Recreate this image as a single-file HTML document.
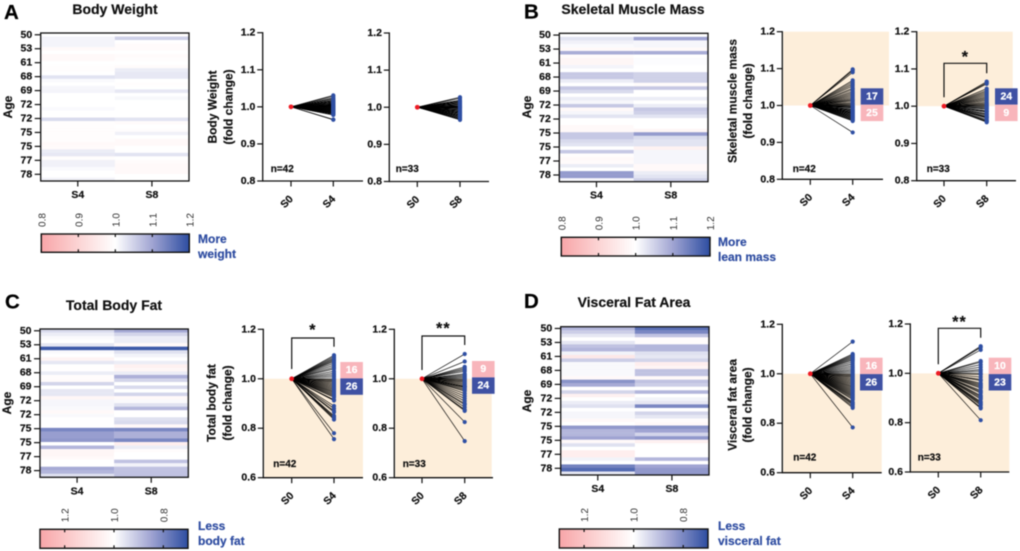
<!DOCTYPE html>
<html lang="en">
<head>
<meta charset="utf-8">
<title>Body composition fold change panels</title>
<style>
html,body{margin:0;padding:0;background:#fff;width:1020px;height:551px;overflow:hidden}
svg{display:block;font-family:"Liberation Sans",Arial,sans-serif;filter:blur(.4px)}
</style>
</head>
<body>
<svg id="figure" xmlns="http://www.w3.org/2000/svg" width="1020" height="551" viewBox="0 0 1020 551"></svg>
<script>
// ---- Heatmap row labels and categories ----
const ageLabels = [50,53,61,68,69,72,72,75,75,77,78];
const heatColumns = ['S4','S8'];

// ---- Heatmap values (fold change per participant row) ----
const heatAS4 = [1.0,1.012,1.012,1.012,.985,1.0,.985,.985,1.0,.995,.995,1.0,1.03,1.005,1.0,1.01,1.012,1.0,1.0,1.0,1.0,1.005,1.0,1.0,1.04,.995,.995,.995,.995,.995,.995,.985,.99,1.02,1.025,.995,1.015,1.015,1.005,1.0,1.0,1.012];
const heatAS8 = [.995,1.05,1.0,.99,.99,1.0,.99,.995,1.0,.99,1.02,1.025,1.025,1.0,.995,1.0,1.025,1.0,1.008,1.0,1.0,1.0,1.0,1.0,1.03,.99,1.0,.995,1.015,1.0,.985,.985,1.0,1.0,1.03,1.0,.99,.985,.985,.985,1.0,1.0];
const heatBS4 = [1.0,1.03,1.015,1.005,.985,1.09,.99,.98,.98,1.012,1.0,1.06,1.06,1.02,1.0,1.06,1.04,1.0,1.02,1.01,1.06,.985,1.01,1.03,1.0,1.0,.985,.985,1.06,1.06,1.04,1.03,1.0,1.06,.995,.985,.99,1.02,1.0,1.11,1.11,1.01];
const heatBS8 = [1.0,1.1,1.01,1.01,.985,1.09,1.0,1.003,1.003,1.0,1.0,1.05,1.05,1.05,.99,1.06,1.0,1.0,1.02,1.0,1.02,1.06,1.05,1.03,1.0,1.0,1.0,.98,1.11,1.04,1.03,1.03,.97,1.01,1.01,1.01,1.01,.985,.985,1.02,1.03,1.05];
const heatCS4 = [.94,.97,.99,1.0,.96,.72,.99,1.0,1.04,.96,1.005,1.005,.97,1.01,1.015,.93,1.0,.96,.96,1.03,.985,.985,.99,1.02,.99,1.0,1.0,1.0,.8,.84,.84,.83,1.0,.88,1.03,1.03,1.02,1.0,1.0,.86,.88,.95];
const heatCS8 = [.86,.93,.97,.97,1.02,.72,.95,.98,1.0,.97,1.05,1.03,.97,.87,.93,1.0,.94,1.0,.93,1.02,.99,.95,.88,1.0,1.0,.95,.94,1.02,.8,.87,.87,.8,1.06,.97,1.01,1.0,1.0,.9,.98,.9,.9,.9];
const heatDS4 = [.88,.92,.96,1.0,.96,.9,.88,.98,1.08,.92,.99,.99,.99,.99,1.02,.82,.86,1.0,.93,1.05,1.0,.97,.95,1.0,.985,.985,1.02,1.0,.83,.88,.88,.85,1.02,.95,1.0,1.06,1.06,.98,1.0,.79,.75,.96];
const heatDS8 = [.76,.8,.9,1.01,1.01,.88,.88,.95,.96,.93,1.06,1.04,.9,.9,1.02,.9,.92,1.0,.88,1.0,.98,.96,.8,1.0,.93,.96,1.01,1.02,.82,.85,.93,.83,1.05,1.0,1.0,1.0,1.0,.88,1.0,.85,.83,.83];

// ---- Paired endpoint values (S0 is always 1.0) ----
const baselineValue = 1.0;
const pairAS4 = [1.031,1.028,1.024,1.022,1.019,1.017,1.015,1.014,1.012,1.011,1.009,1.008,1.006,1.005,1.004,1.003,1.002,1.001,1.0,.999,.998,.997,.996,.995,.994,.993,.992,.991,.99,.989,.988,.987,.986,.985,.984,.983,.982,.981,.979,.978,.966,.965];
const pairAS8 = [1.027,1.024,1.019,1.017,1.015,1.013,1.011,1.009,1.007,1.005,1.003,1.002,1.0,.999,.998,.996,.994,.992,.99,.989,.987,.985,.984,.982,.98,.978,.977,.975,.973,.971,.969,.967,.966];
const pairBS4 = [1.098,1.095,1.09,1.068,1.063,1.058,1.053,1.047,1.043,1.038,1.034,1.03,1.026,1.022,1.018,1.015,1.012,1.008,1.005,1.002,.999,.997,.995,.993,.99,.988,.986,.984,.982,.98,.978,.976,.974,.972,.97,.968,.966,.964,.962,.96,.958,.927];
const pairBS8 = [1.066,1.063,1.06,1.047,1.042,1.038,1.034,1.03,1.026,1.022,1.018,1.014,1.01,1.007,1.004,1.002,.999,.997,.994,.992,.988,.986,.984,.98,.978,.975,.972,.97,.968,.964,.961,.959,.957];
const pairCS4 = [1.095,1.09,1.085,1.08,1.075,1.07,1.063,1.055,1.047,1.04,1.03,1.022,1.015,1.008,1.0,.995,.99,.985,.98,.975,.97,.965,.96,.955,.95,.945,.94,.935,.93,.925,.915,.912,.89,.88,.87,.865,.85,.845,.84,.835,.78,.756];
const pairCS8 = [1.1,1.07,1.048,1.042,1.036,1.03,1.02,1.015,1.01,1.005,1.0,.995,.99,.985,.98,.975,.97,.968,.965,.96,.955,.95,.94,.93,.92,.91,.9,.895,.885,.875,.87,.825,.748];
const pairDS4 = [1.13,1.08,1.075,1.07,1.065,1.06,1.055,1.048,1.04,1.032,1.025,1.018,1.012,1.006,1.0,.995,.99,.985,.98,.975,.97,.965,.96,.955,.95,.945,.94,.935,.93,.925,.92,.915,.91,.905,.9,.895,.885,.88,.875,.868,.862,.783];
const pairDS8 = [1.11,1.105,1.095,1.05,1.045,1.035,1.025,1.015,1.008,1.0,.995,.985,.975,.97,.96,.955,.95,.945,.94,.93,.925,.92,.91,.905,.9,.895,.885,.88,.875,.87,.862,.858,.81];

// ---- Axis tick labels ----
const ticksWide = [0.8,0.9,1.0,1.1,1.2];
const ticksTall = [0.6,0.8,1.0,1.2];
const colorTicksGain = [0.8,0.9,1.0,1.1,1.2];
const colorTicksLoss = [1.2,1.0,0.8];

// ---- Panel layout ----
const panels = [
 {key:'a',letter:'A',lx:4,ly:19,title:'Body Weight',tx:115,ty:9,age:[8,107],
  heat:{x0:40.7,x1:189,y0:33,y1:181,labelY:195,s4:heatAS4,s8:heatAS8},
  bar:{x0:41.3,x1:189.3,y0:234,y1:252.3,lo:.8,hi:1.2,ticks:colorTicksGain,note:['More','weight'],nx:198,ny:[239,254]},
  ytitle:'Body Weight',charts:[
   {ax:262.7,top:32.7,bot:181,s0:291,s1:333.3,end:363,lab:'S4',vals:pairAS4,dom:[.8,1.2],ticks:ticksWide,n:'n=42',nx:270.7,ny:169.3,shade:null},
   {ax:389.3,top:33,bot:181.5,s0:417.3,s1:460,end:489,lab:'S8',vals:pairAS8,dom:[.8,1.2],ticks:ticksWide,n:'n=33',nx:395.7,ny:169.3,shade:null}],
  tl:[212.7,228.3],tc:107},
 {key:'b',letter:'B',lx:524,ly:18.5,title:'Skeletal Muscle Mass',tx:633,ty:9,age:[527,107],
  heat:{x0:559.3,x1:708,y0:33.3,y1:181.7,labelY:195.5,s4:heatBS4,s8:heatBS8},
  bar:{x0:561.3,x1:710,y0:237.3,y1:256,lo:.8,hi:1.2,ticks:colorTicksGain,note:['More','lean mass'],nx:718,ny:[242,257]},
  ytitle:'Skeletal muscle mass',charts:[
   {ax:782.3,top:31.7,bot:179.3,s0:810.3,s1:852.7,end:883,lab:'S4',vals:pairBS4,dom:[.8,1.2],ticks:ticksWide,n:'n=42',nx:792.7,ny:169.3,shade:{from:1.0,to:1.2,x1:889},
    badge:{x:860.7,y0:88.3,top:['17','blue'],bot:['25','pink']}},
   {ax:916.7,top:31.7,bot:180.7,s0:944,s1:986.7,end:1016,lab:'S8',vals:pairBS8,dom:[.8,1.2],ticks:ticksWide,n:'n=33',nx:926.7,ny:169.3,shade:{from:1.0,to:1.2,x1:1012.7},
    badge:{x:995,y0:88.3,top:['24','blue'],bot:['9','pink']},
    sig:{stars:'*',barY:63.3,left:97.3,right:73.3,sy:55}}],
  tl:[732.3,748],tc:101},
 {key:'c',letter:'C',lx:5,ly:308.5,title:'Total Body Fat',tx:114,ty:305,age:[7,403],
  heat:{x0:40,x1:188.3,y0:329,y1:477.3,labelY:491.7,s4:heatCS4,s8:heatCS8},
  bar:{x0:40,x1:188,y0:529.3,y1:548.3,lo:1.3,hi:.7,ticks:colorTicksLoss,note:['Less','body fat'],nx:198,ny:[526,541]},
  ytitle:'Total body fat',charts:[
   {ax:263.3,top:329.3,bot:477.7,s0:291.7,s1:334,end:363,lab:'S4',vals:pairCS4,dom:[.6,1.2],ticks:ticksTall,n:'n=42',nx:273.3,ny:464.3,shade:{from:.6,to:1.0,x1:363},
    badge:{x:340.3,y0:362,top:['16','pink'],bot:['26','blue']},
    sig:{stars:'*',barY:338,left:369,right:346.7,sy:328}},
   {ax:394.3,top:329.3,bot:477.7,s0:422,s1:464.7,end:493,lab:'S8',vals:pairCS8,dom:[.6,1.2],ticks:ticksTall,n:'n=33',nx:402.7,ny:464.3,shade:{from:.6,to:1.0,x1:491.7},
    badge:{x:472,y0:361,top:['9','pink'],bot:['24','blue']},
    sig:{stars:'**',barY:336,left:370,right:345,sy:326.7}}],
  tl:[211.7,227.3],tc:403},
 {key:'d',letter:'D',lx:524,ly:308,title:'Visceral Fat Area',tx:634,ty:302,age:[527,401],
  heat:{x0:560.7,x1:709,y0:326.7,y1:475,labelY:489,s4:heatDS4,s8:heatDS8},
  bar:{x0:559.3,x1:708,y0:529,y1:548,lo:1.3,hi:.7,ticks:colorTicksLoss,note:['Less','visceral fat'],nx:718,ny:[526,541]},
  ytitle:'Visceral fat area',charts:[
   {ax:782.3,top:324.3,bot:472.7,s0:810.3,s1:852.7,end:881.7,lab:'S4',vals:pairDS4,dom:[.6,1.2],ticks:ticksTall,n:'n=42',nx:793.3,ny:458,shade:{from:.6,to:1.0,x1:881.7},
    badge:{x:860,y0:357.7,top:['16','pink'],bot:['26','blue']}},
   {ax:910.3,top:324,bot:472,s0:938.3,s1:980.7,end:1009.3,lab:'S8',vals:pairDS8,dom:[.6,1.2],ticks:ticksTall,n:'n=33',nx:917.7,ny:458,shade:{from:.6,to:1.0,x1:1009.3},
    badge:{x:988.7,y0:357.7,top:['10','pink'],bot:['23','blue']},
    sig:{stars:'**',barY:328.3,left:364.3,right:337.7,sy:320}}],
  tl:[732.7,747.3],tc:405}
];

// ---- Drawing helpers ----
const NS = 'http://www.w3.org/2000/svg';
const root = document.getElementById('figure');
function mk(parent, tag, attrs){
  const el = document.createElementNS(NS, tag);
  for (const k in attrs) el.setAttribute(k, attrs[k]);
  parent.appendChild(el);
  return el;
}
function label(parent, str, x, y, size, opts){
  const o = opts || {};
  const fill = o.fill || '#111';
  const a = {x:x, y:y, 'font-size':size, 'font-weight':o.weight || 'bold', fill:fill,
             'text-anchor':o.anchor || 'middle', 'dominant-baseline':o.base || 'central'};
  if (!o.weight) { a.stroke = fill; a['stroke-width'] = .2; }
  if (o.rot !== undefined) a.transform = 'rotate(' + o.rot + ' ' + x + ' ' + y + ')';
  const el = mk(parent, 'text', a);
  el.textContent = str;
  return el;
}
const colorStops = [[248,165,168],[252,212,212],[255,255,255],[160,164,210],[45,77,161]];
function heatColor(v, lo, hi){
  const t = Math.max(0, Math.min(1, (v - lo) / (hi - lo))) * 4;
  const i = Math.min(3, Math.floor(t));
  const f = t - i;
  const c = colorStops[i].map((s, k) => Math.round(s + (colorStops[i + 1][k] - s) * f));
  return 'rgb(' + c.join(',') + ')';
}
function yScaleFor(c){
  return v => c.bot - (v - c.dom[0]) / (c.dom[1] - c.dom[0]) * (c.bot - c.top);
}
const STROKE = '#111';

function drawHeatmap(g, p){
  const h = p.heat;
  const columns = [h.s4, h.s8];
  const rowCount = h.s4.length;
  const rowH = (h.y1 - h.y0) / rowCount;
  const colW = (h.x1 - h.x0) / columns.length;
  const yRow = i => h.y0 + i * rowH;
  const xCol = j => h.x0 + j * colW;
  columns.forEach((vals, j) => {
    vals.forEach((v, i) => {
      const cell = mk(g, 'rect', {x:xCol(j), y:yRow(i), width:colW + .2, height:rowH + .2, fill:heatColor(v, p.bar.lo, p.bar.hi)});
      
      
    });
  });
  const frame = mk(g, 'rect', {x:h.x0, y:h.y0, width:h.x1 - h.x0, height:h.y1 - h.y0, fill:'none', stroke:STROKE, 'stroke-width':1.3});
  
  
  ageLabels.forEach((a, i) => {
    const y = yRow(i * 4 + .5) - i * .14;
    const t = mk(g, 'line', {x1:h.x0 - 6, x2:h.x0, y1:y, y2:y, stroke:STROKE, 'stroke-width':1.2});
    
    
    const l = label(g, a, h.x0 - 8.5, y, 10.5, {anchor:'end'});
    
    
  });
  heatColumns.forEach((name, j) => {
    const x = xCol(j) + colW / 2;
    const t = mk(g, 'line', {x1:x, x2:x, y1:h.y1, y2:h.y1 + 5.5, stroke:STROKE, 'stroke-width':1.2});
    
    
    const l = label(g, name, x, h.labelY, 10.5);
    
    
  });
  const ageT = label(g, 'Age', p.age[0], p.age[1], 12, {rot:-90});
  
  
}

function drawColorBar(g, defs, p){
  const b = p.bar;
  const grad = mk(defs, 'linearGradient', {id:'grad-' + p.key, x1:0, x2:1, y1:0, y2:0});
  colorStops.forEach((c, i) => {
    mk(grad, 'stop', {offset:(i * 25) + '%', 'stop-color':'rgb(' + c.join(',') + ')'});
  });
  const r = mk(g, 'rect', {x:b.x0, y:b.y0, width:b.x1 - b.x0, height:b.y1 - b.y0, fill:'url(#grad-' + p.key + ')', stroke:STROKE, 'stroke-width':1.4});
  
  
  const xv = v => b.x0 + (v - b.lo) / (b.hi - b.lo) * (b.x1 - b.x0);
  b.ticks.forEach(v => {
    const x = xv(v);
    const t1 = mk(g, 'line', {x1:x, x2:x, y1:b.y0, y2:b.y0 + 3, stroke:STROKE, 'stroke-width':1.2});
    
    
    const t2 = mk(g, 'line', {x1:x, x2:x, y1:b.y1 - 3, y2:b.y1, stroke:STROKE, 'stroke-width':1.2});
    
    
    const l = label(g, v.toFixed(1), x + 1.5, b.y0 - 14, 10, {rot:-90, weight:'normal', fill:'#333'});
    
    
  });
  b.note.forEach((s, i) => {
    const n = label(g, s, b.nx, b.ny[i], 12, {anchor:'start', fill:'#2f4da1'});
    
    
  });
}

function drawPairChart(g, c){
  const y = yScaleFor(c);
  if (c.shade){
    const s = mk(g, 'rect', {x:c.ax + 1, y:y(c.shade.to), width:c.shade.x1 - c.ax - 1, height:y(c.shade.from) - y(c.shade.to), fill:'#fdeeda'});
    
    
  }
  c.vals.forEach(v => {
    const ln = mk(g, 'line', {x1:c.s0, y1:y(baselineValue), x2:c.s1, y2:y(v), stroke:'#000', 'stroke-width':.65});
    
    
  });
  c.vals.forEach(v => {
    const d = mk(g, 'circle', {cx:c.s1, cy:y(v), r:2.1, fill:'#2f4fa3'});
    
    
  });
  const base = mk(g, 'circle', {cx:c.s0, cy:y(baselineValue), r:2.4, fill:'#ee1c25'});
  
  

  const yAxis = mk(g, 'line', {x1:c.ax, x2:c.ax, y1:c.top - .6, y2:c.bot + .6, stroke:STROKE, 'stroke-width':1.3});
  
  
  const xAxis = mk(g, 'line', {x1:c.ax, x2:c.end, y1:c.bot, y2:c.bot, stroke:STROKE, 'stroke-width':1.3});
  
  
  c.ticks.forEach(v => {
    const t = mk(g, 'line', {x1:c.ax - 5.5, x2:c.ax, y1:y(v), y2:y(v), stroke:STROKE, 'stroke-width':1.2});
    
    
    const l = label(g, v.toFixed(1), c.ax - 7.3, y(v), 10.5, {anchor:'end'});
    
    
  });
  [['S0', c.s0], [c.lab, c.s1]].forEach(pair => {
    const t = mk(g, 'line', {x1:pair[1], x2:pair[1], y1:c.bot, y2:c.bot + 5.5, stroke:STROKE, 'stroke-width':1.2});
    
    
    const l = label(g, pair[0], pair[1] - 4, c.bot + 21, 10.5, {rot:-45});
    
    
  });
  const nt = label(g, c.n, c.nx, c.ny, 10, {anchor:'start'});
  
  

  if (c.badge){
    const bw = 22.6, bh = 16.4;
    const cols = {blue:'#3f51a3', pink:'#f8b5bb'};
    [c.badge.top, c.badge.bot].forEach((b, i) => {
      const yy = c.badge.y0 + i * bh;
      const r = mk(g, 'rect', {x:c.badge.x, y:yy, width:bw, height:bh, fill:cols[b[1]]});
      
      
      const l = label(g, b[0], c.badge.x + bw / 2, yy + bh / 2, 10.5, {fill:'#fff'});
      
      
    });
  }
  if (c.sig){
    const br = mk(g, 'path', {d:'M' + c.s0 + ' ' + c.sig.left + 'V' + c.sig.barY + 'H' + c.s1 + 'V' + c.sig.right, fill:'none', stroke:STROKE, 'stroke-width':1.2});
    
    
    const st = label(g, c.sig.stars, (c.s0 + c.s1) / 2, c.sig.sy + 7, 16, {base:'auto', fill:'#111'});
    st.setAttribute('letter-spacing', '1');
    
    
  }
}

const defs = mk(root, 'defs', {});
panels.forEach(p => {
  const g = mk(root, 'g', {});
  
  
  const letter = label(g, p.letter, p.lx, p.ly, 20.5, {anchor:'start', base:'auto', fill:'#000'});
  
  
  const title = label(g, p.title, p.tx, p.ty, 14, {fill:'#111'});
  
  
  drawHeatmap(g, p);
  drawColorBar(g, defs, p);
  p.charts.forEach(c => drawPairChart(g, c));
  const yt1 = label(g, p.ytitle, p.tl[0], p.tc, 12, {rot:-90});
  
  
  const yt2 = label(g, '(fold change)', p.tl[1], p.tc, 12, {rot:-90});
  
  
});
</script>
</body>
</html>
